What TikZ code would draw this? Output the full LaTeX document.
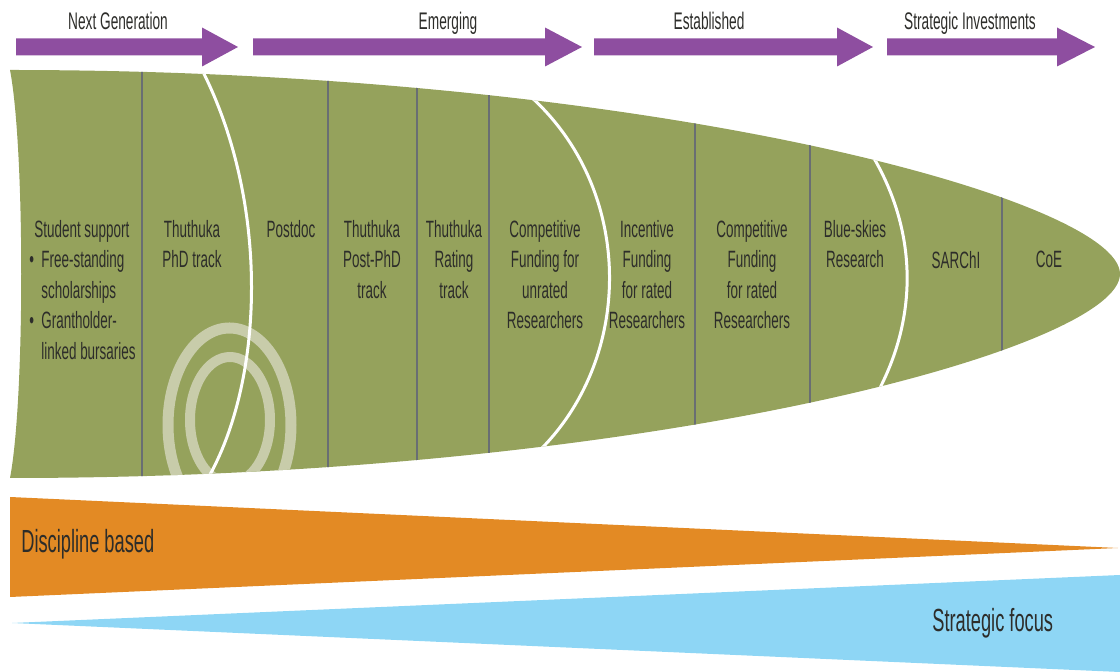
\documentclass[tikz,border=0pt]{standalone}
\usepackage{fontspec}
\setmainfont[FakeStretch=0.57]{Liberation Sans}
\usepackage{tikz}

\definecolor{phasepurple}{RGB}{142,78,160}
\definecolor{pipegreen}{RGB}{149,162,92}
\definecolor{divgray}{RGB}{105,110,115}
\definecolor{ringgray}{RGB}{200,204,170}
\definecolor{discorange}{RGB}{227,138,36}
\definecolor{focusblue}{RGB}{142,214,245}
\definecolor{txtgray}{RGB}{45,45,42}

\tikzset{
  phase/.style={anchor=base,inner sep=0pt,text=txtgray,font=\fontsize{12}{14}\selectfont},
  stage/.style={anchor=north,inner sep=0pt,align=center,text=txtgray,font=\fontsize{11.8}{15.2}\selectfont},
  band/.style={anchor=base west,inner sep=0pt,text=txtgray,font=\fontsize{16}{18}\selectfont},
  divider/.style={divgray,line width=1.3pt},
  border/.style={white,line width=1.5pt}
}

\begin{document}
\begin{tikzpicture}[x=0.5pt,y=-0.5pt,line join=round]
\useasboundingbox (0,0) rectangle (1120,672);

% --- career phases
\foreach \xa/\xb/\xt in {16/202/238, 253/545/582, 594/837/873, 887/1057/1095}
  \fill[phasepurple] (\xa,38.5) -- (\xb,38.5) -- (\xb,27.5) -- (\xt,47) -- (\xb,66.5) -- (\xb,55.5) -- (\xa,55.5) -- cycle;
\node[phase] (nextgen) at (118,30) {Next Generation};
\node[phase] (emerging) at (448,30) {Emerging};
\node[phase] (established) at (709,30) {Established};
\node[phase] (strategic) at (970,30) {Strategic Investments};

% --- funding pipeline, everything inside is clipped to the bullet shape
\begin{scope}
\clip (10,70) .. controls (650,70) and (1120,200) .. (1120,274)
      .. controls (1120,348) and (650,478) .. (10,478)
      .. controls (25,400) and (25,148) .. (10,70) -- cycle;
\fill[pipegreen] (0,60) rectangle (1120,490);
\draw[ringgray,line width=5.5pt] (229.5,425) ellipse[x radius=61.5,y radius=97];
\draw[ringgray,line width=5pt] (230,420) ellipse[x radius=40,y radius=63];
\foreach \x in {142,328,417,489,695,810,1002}
  \draw[divider] (\x,60) -- (\x,490);
\draw[border] (200,66) .. controls (270,200) and (265,380) .. (207,480);
\draw[border] (530,96) .. controls (635,190) and (635,360) .. (536,454);
\draw[border] (869,150) .. controls (919,230) and (919,320) .. (874,399);
\end{scope}

\node[stage,anchor=north west,align=left] (student) at (29,220)
  {\hspace*{2.5pt}Student support\\\makebox[6pt][l]{\textbullet}Free-standing\\\hspace*{6pt}scholarships\\\makebox[6pt][l]{\textbullet}Grantholder-\\\hspace*{6pt}linked bursaries};
\node[stage] (phd) at (192,220) {Thuthuka\\PhD track};
\node[stage] (postdoc) at (291,220) {Postdoc};
\node[stage] (postphd) at (372,220) {Thuthuka\\Post-PhD\\track};
\node[stage] (rating) at (454,220) {Thuthuka\\Rating\\track};
\node[stage] (unrated) at (545,220) {Competitive\\Funding for\\unrated\\Researchers};
\node[stage] (incentive) at (647,220) {Incentive\\Funding\\for rated\\Researchers};
\node[stage] (rated) at (752,220) {Competitive\\Funding\\for rated\\Researchers};
\node[stage] (blue) at (855,220) {Blue-skies\\Research};
\node[stage] (sarchi) at (956,251) {SARChI};
\node[stage] (coe) at (1049,251) {CoE};

% --- discipline vs strategy wedges
\fill[discorange] (10,497) -- (1118,548) -- (10,597) -- cycle;
\fill[focusblue] (12,623) -- (1120,575) -- (1120,672) -- cycle;
\node[band] (discipline) at (21,553) {Discipline based};
\node[band] (focus) at (932,632) {Strategic focus};
\end{tikzpicture}
\end{document}
